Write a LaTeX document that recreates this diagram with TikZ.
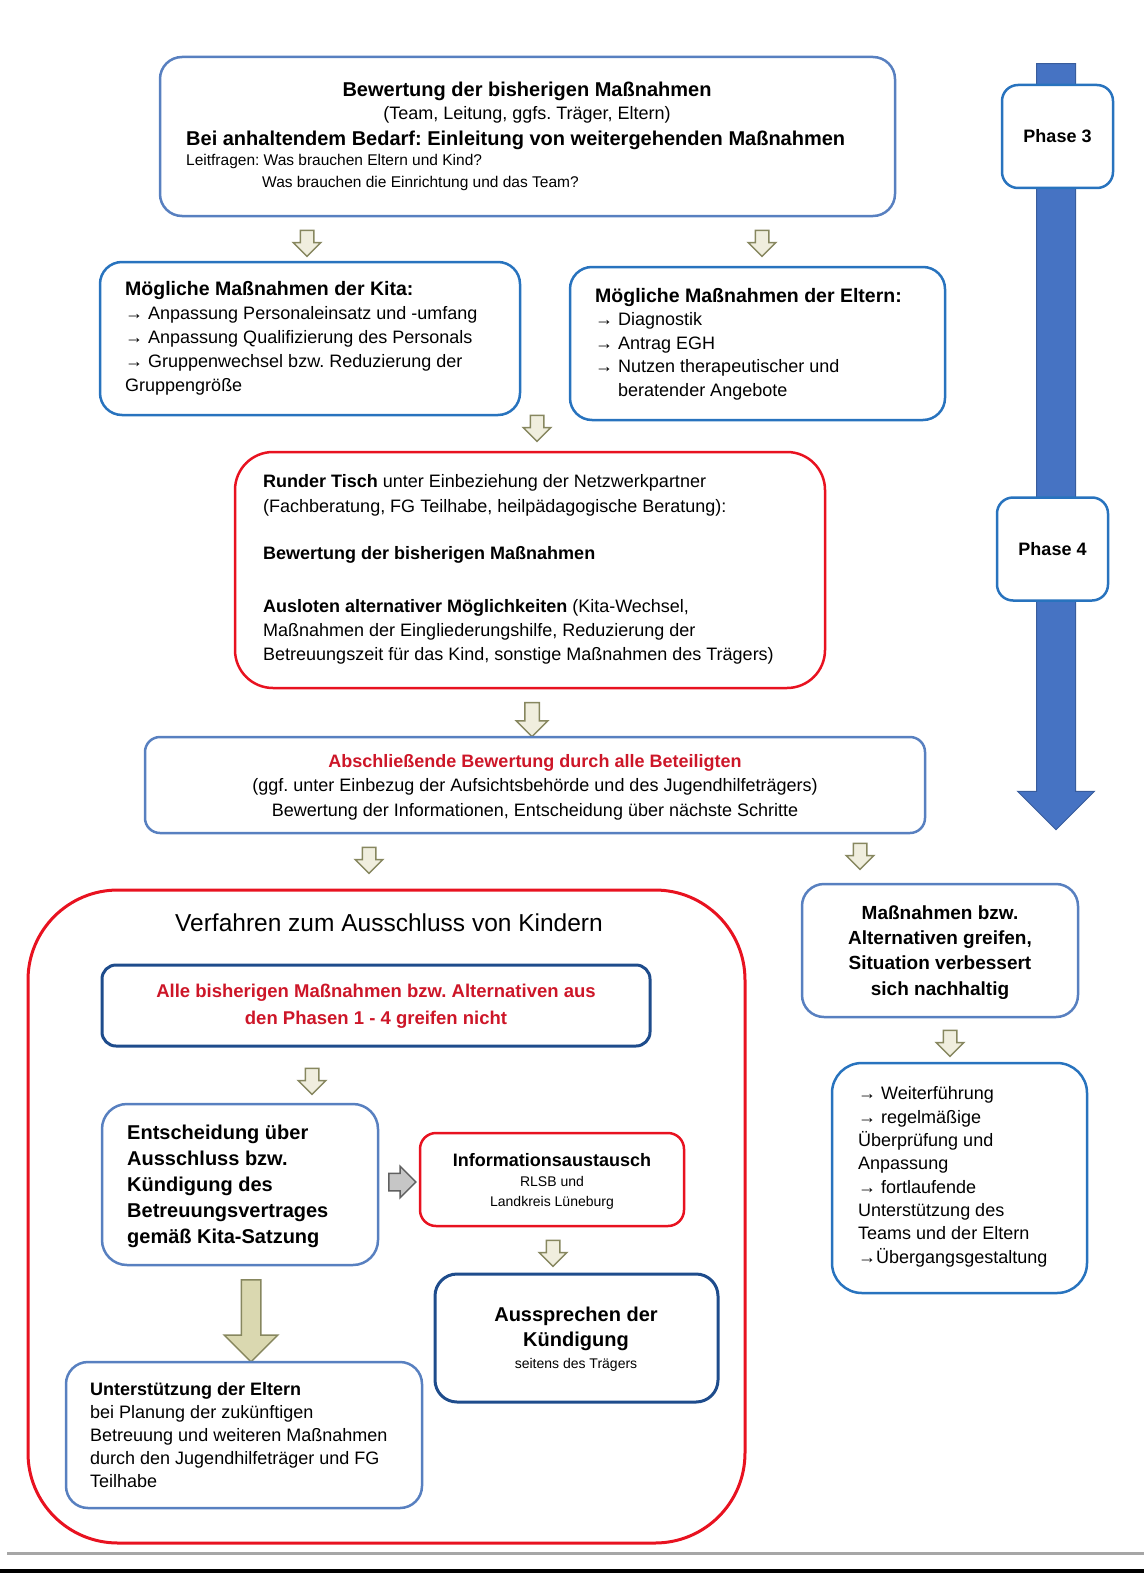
\documentclass[tikz,border=0pt]{standalone}
\usepackage{fontspec}
\setmainfont{Liberation Sans}
\frenchspacing
\usetikzlibrary{shapes.arrows}

\definecolor{lineblue}{RGB}{40,115,190}
\definecolor{paleblue}{RGB}{88,128,192}
\definecolor{deepblue}{RGB}{30,76,140}
\definecolor{linered}{RGB}{232,18,32}
\definecolor{textred}{RGB}{205,22,40}
\definecolor{arrline}{RGB}{135,135,95}
\definecolor{arrfill}{RGB}{240,238,222}
\definecolor{bigarrfill}{RGB}{218,216,176}
\definecolor{phasefill}{RGB}{70,115,195}

\tikzset{
  framebox/.style={draw, line width=2.5pt, inner sep=0pt, rounded corners=#1},
  txt/.style={inner sep=0pt, font=\fontsize{18}{24}\selectfont},
  blockarr/.style={single arrow, draw=arrline, fill=arrfill, line width=1.5pt,
    single arrow head indent=0pt, inner xsep=0pt, rotate=-90},
  smallarr/.style={blockarr, minimum height=26pt, inner ysep=6pt,
    single arrow head extend=7pt},
  phasebox/.style={framebox=16pt, draw=lineblue, fill=white,
    minimum width=111pt, minimum height=103pt,
    font=\fontsize{18}{22}\selectfont\bfseries}
}

\begin{document}
\begin{tikzpicture}[x=1pt, y=-1pt]
\useasboundingbox (0,0) rectangle (1144,1573);

% phase arrow on the right
\node[blockarr, draw=phasefill!80!black, fill=phasefill, line width=1pt,
      minimum height=766pt, inner ysep=19pt, single arrow head extend=19pt]
      (phasearr) at (1056,437) {};
\node[phasebox] (phase3) at (1057.5,136.5) {Phase 3};
\node[phasebox] (phase4) at (1052.5,549) {Phase 4};

% Bewertung
\node[framebox=22pt, draw=paleblue, minimum width=735pt, minimum height=159pt]
      (bewert) at (527.5,136.5) {};
\node[txt, anchor=base, align=center, font=\fontsize{18}{23}\selectfont]
      (bewerttxt) at (527,120)
      {{\fontsize{20}{23}\selectfont\bfseries Bewertung der bisherigen Maßnahmen}\\
       (Team, Leitung, ggfs. Träger, Eltern)};
\node[txt, anchor=base west, font=\fontsize{20}{24}\selectfont\bfseries]
      (bedarf) at (186,146)
      {Bei anhaltendem Bedarf: Einleitung von weitergehenden Maßnahmen};
\node[txt, anchor=base west, align=left, font=\fontsize{15.5}{22}\selectfont]
      (leitfragen) at (186,188)
      {Leitfragen: Was brauchen Eltern und Kind?\\
       \hspace*{76pt}Was brauchen die Einrichtung und das Team?};

\node[smallarr] (ar1) at (307,240) {};
\node[smallarr] (ar2) at (762,240) {};

% Kita und Eltern
\node[framebox=22pt, draw=lineblue, minimum width=420pt, minimum height=153pt]
      (kita) at (310,338.5) {};
\node[txt, anchor=base west, align=left] (kitatxt) at (125,391)
      {{\fontsize{19.5}{24}\selectfont\bfseries Mögliche Maßnahmen der Kita:}\\
       → Anpassung Personaleinsatz und -umfang\\
       → Anpassung Qualifizierung des Personals\\
       → Gruppenwechsel bzw. Reduzierung der\\
       Gruppengröße};

\node[framebox=22pt, draw=lineblue, minimum width=375pt, minimum height=153pt]
      (eltern) at (757.5,343.5) {};
\node[txt, anchor=base west, align=left, font=\fontsize{18}{23.5}\selectfont]
      (elterntxt) at (595,396)
      {{\fontsize{19.5}{24}\selectfont\bfseries Mögliche Maßnahmen der Eltern:}\\
       → Diagnostik\\
       → Antrag EGH\\
       → Nutzen therapeutischer und\\
       \phantom{→ }beratender Angebote};

\node[smallarr] (ar3) at (537,425) {};

% Runder Tisch
\node[framebox=38pt, draw=linered, minimum width=590pt, minimum height=236pt]
      (tisch) at (530,570) {};
\node[txt, anchor=base west, align=left] (tischtxt) at (263,660)
      {\textbf{Runder Tisch} unter Einbeziehung der Netzwerkpartner\\[1pt]
       (Fachberatung, FG Teilhabe, heilpädagogische Beratung):\\[23pt]
       \textbf{Bewertung der bisherigen Maßnahmen}\\[29pt]
       \textbf{Ausloten alternativer Möglichkeiten} (Kita-Wechsel,\\
       Maßnahmen der Eingliederungshilfe, Reduzierung der\\
       Betreuungszeit für das Kind, sonstige Maßnahmen des Trägers)};

\node[smallarr, minimum height=34pt, inner ysep=6.5pt,
      single arrow head extend=8.5pt] (ar4) at (532,716) {};

% Abschliessende Bewertung
\node[framebox=15pt, draw=paleblue, minimum width=780pt, minimum height=96pt]
      (abschl) at (535,785) {};
\node[txt, anchor=base, align=center, font=\fontsize{18}{24.5}\selectfont]
      (abschltxt) at (535,816)
      {\textcolor{textred}{\bfseries Abschließende Bewertung durch alle Beteiligten}\\
       (ggf. unter Einbezug der Aufsichtsbehörde und des Jugendhilfeträgers)\\
       Bewertung der Informationen, Entscheidung über nächste Schritte};

\node[smallarr] (ar5) at (369,857) {};
\node[smallarr] (ar6) at (860,853) {};

% Verfahren zum Ausschluss
\node[framebox=90pt, draw=linered, line width=3pt,
      minimum width=717pt, minimum height=653pt] (verfahren) at (386.5,1216.5) {};
\node[txt, anchor=base, font=\fontsize{24.5}{28}\selectfont]
      (verfahrentxt) at (389,931) {Verfahren zum Ausschluss von Kindern};

\node[framebox=14pt, draw=deepblue, line width=3pt,
      minimum width=548pt, minimum height=81pt] (alle) at (376,1005.5) {};
\node[txt, anchor=base, align=center, text=textred,
      font=\fontsize{18.5}{27}\selectfont\bfseries] (alletxt) at (376,1024)
      {Alle bisherigen Maßnahmen bzw. Alternativen aus\\
       den Phasen 1 - 4 greifen nicht};

\node[smallarr] (ar7) at (312,1078) {};

\node[framebox=25pt, draw=paleblue, minimum width=276pt, minimum height=161pt]
      (entsch) at (240,1184.5) {};
\node[txt, anchor=base west, align=left, font=\fontsize{20}{26}\selectfont\bfseries]
      (entschtxt) at (127,1243)
      {Entscheidung über\\
       Ausschluss bzw.\\
       Kündigung des\\
       Betreuungsvertrages\\
       gemäß Kita-Satzung};

\node[blockarr, rotate=90, draw=gray!75!black, fill=gray!45,
      minimum height=27pt, inner ysep=8pt, single arrow head extend=7pt]
      (ar8) at (398,1182) {};

\node[framebox=16pt, draw=linered, minimum width=264pt, minimum height=93pt]
      (info) at (552,1179.5) {};
\node[txt, anchor=base, align=center, font=\fontsize{14}{20}\selectfont]
      (infotxt) at (552,1206)
      {{\fontsize{18}{20}\selectfont\bfseries Informationsaustausch}\\
       RLSB und\\
       Landkreis Lüneburg};

\node[smallarr] (ar9) at (553,1250) {};

\node[framebox=22pt, draw=deepblue, line width=3pt,
      minimum width=283pt, minimum height=128pt] (kuend) at (576.5,1338) {};
\node[txt, anchor=base, align=center, font=\fontsize{20}{25}\selectfont\bfseries]
      (kuendtxt) at (576,1368)
      {Aussprechen der\\
       Kündigung\\[-3pt]
       {\fontsize{14}{18}\selectfont\mdseries seitens des Trägers}};

\node[blockarr, fill=bigarrfill, minimum height=82pt, inner ysep=9pt,
      single arrow head extend=17pt] (ar10) at (251,1316) {};

\node[framebox=22pt, draw=paleblue, minimum width=356pt, minimum height=146pt]
      (unterst) at (244,1435) {};
\node[txt, anchor=base west, align=left, font=\fontsize{18}{23}\selectfont]
      (unterstxt) at (90,1487)
      {\textbf{Unterstützung der Eltern}\\
       bei Planung der zukünftigen\\
       Betreuung und weiteren Maßnahmen\\
       durch den Jugendhilfeträger und FG\\
       Teilhabe};

% rechte Spalte
\node[framebox=22pt, draw=paleblue, minimum width=276pt, minimum height=133pt]
      (greifen) at (940,950.5) {};
\node[txt, anchor=base, align=center, font=\fontsize{19}{25.3}\selectfont\bfseries]
      (greifentxt) at (940,995)
      {Maßnahmen bzw.\\
       Alternativen greifen,\\
       Situation verbessert\\
       sich nachhaltig};

\node[smallarr] (ar11) at (950,1040) {};

\node[framebox=30pt, draw=lineblue, minimum width=255pt, minimum height=230pt]
      (weiter) at (959.5,1178) {};
\node[txt, anchor=base west, align=left, font=\fontsize{18}{23.3}\selectfont]
      (weitertxt) at (858,1263)
      {→ Weiterführung\\
       → regelmäßige\\
       Überprüfung und\\
       Anpassung\\
       → fortlaufende\\
       Unterstützung des\\
       Teams und der Eltern\\
       →Übergangsgestaltung};

% Rand unten
\draw[gray!70, line width=3pt] (7,1553) -- (1144,1553);
\fill[black] (0,1569) rectangle (1144,1573);
\end{tikzpicture}
\end{document}
